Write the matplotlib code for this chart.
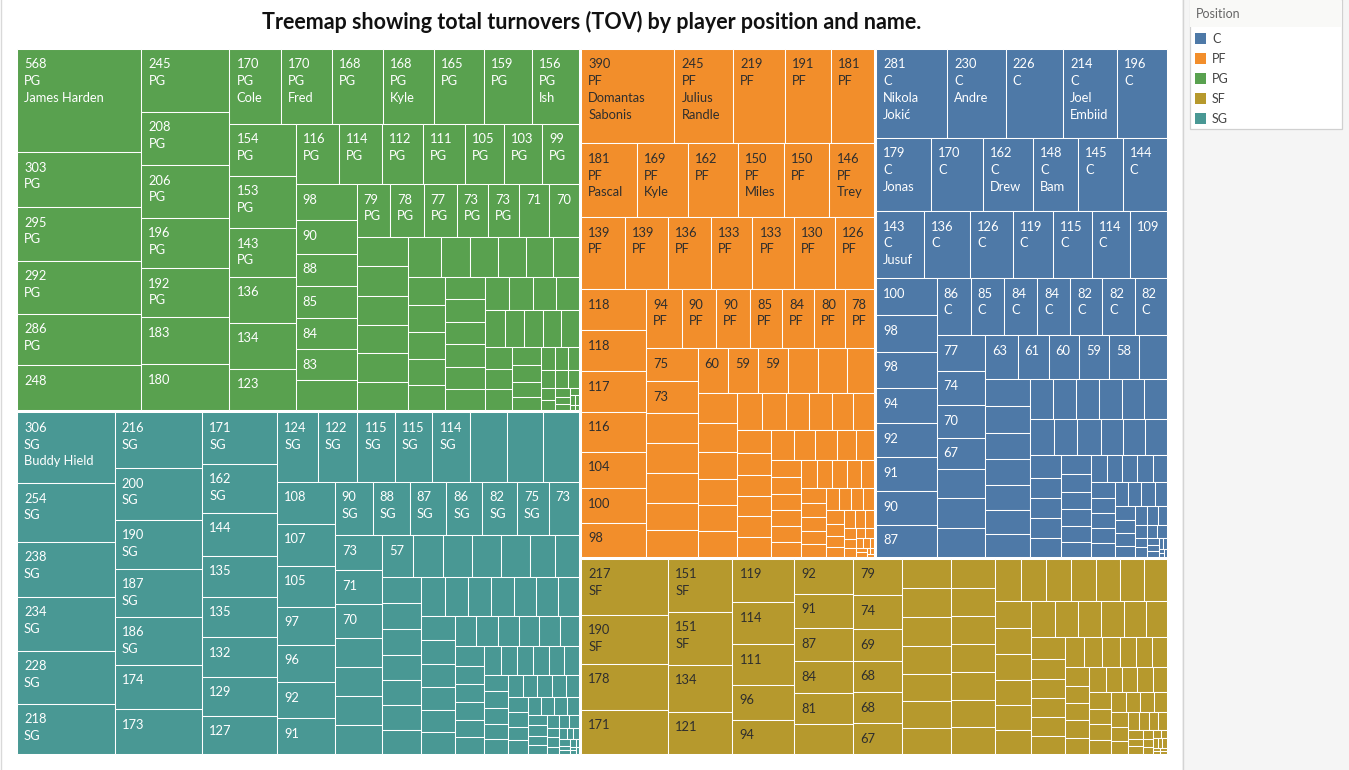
import matplotlib
matplotlib.use("Agg")
import matplotlib.pyplot as plt
from matplotlib.patches import Rectangle
from matplotlib.font_manager import FontProperties

# ---------------- data ----------------
TITLE = "Treemap showing total turnovers (TOV) by player position and name."
LEGEND_TITLE = "Position"
POSITIONS = ["C", "PF", "PG", "SF", "SG"]
COLORS = {"C": "#4e79a7", "PF": "#f28e2b", "PG": "#59a14f",
          "SF": "#b6992d", "SG": "#499894"}
TEXT_COLORS = {"C": "#ffffff", "PF": "#2e2e2e", "PG": "#ffffff",
               "SF": "#2e2e2e", "SG": "#ffffff"}

PG_TOV = [568, 303, 295, 292, 286, 248,
          245, 208, 206, 196, 192, 183, 180,
          170, 170, 168, 168, 165, 159, 156,
          154, 153, 143, 136, 134, 123,
          116, 114, 112, 111, 105, 103, 99,
          98, 90, 88, 85, 84, 83, 82,
          79, 78, 77, 73, 73, 71, 70,
          68, 67, 67, 66, 66, 65,
          57, 52, 50, 49, 47, 47, 45,
          44, 44, 42, 41, 40,
          40, 40, 40, 39, 39,
          36, 35, 35, 34,
          32, 31, 30, 30, 29,
          26, 25, 25,
          23, 21, 19, 17, 15, 13, 12, 11, 10, 9, 8, 7, 6, 5, 4, 3, 2, 2, 1, 1]
PG_NAMES = {0: "James Harden", 13: "Cole", 14: "Fred", 16: "Kyle", 19: "Ish"}

SG_TOV = [306, 254, 238, 234, 228, 218,
          216, 200, 190, 187, 186, 174, 173,
          171, 162, 144, 135, 135, 132, 129, 127,
          124, 122, 115, 115, 114, 114, 112, 110,
          108, 107, 105, 97, 96, 92, 91,
          90, 88, 87, 86, 82, 75, 73,
          73, 71, 70, 61, 61, 61, 60,
          57, 56, 54, 54, 53, 46, 45,
          45, 45, 44, 43, 43, 43, 42,
          41, 40, 40, 39, 38, 38, 37,
          36, 36, 35, 34, 33, 33,
          29, 28, 28, 27, 27, 26,
          26, 24, 23, 23, 22, 22,
          22, 21, 21, 20, 20, 19, 18, 18, 17, 16, 16, 15, 14, 14, 14, 13, 13,
          13, 12, 12, 11, 10, 10, 10, 9, 9, 8, 8, 7, 6, 6, 5, 5, 4, 4, 3, 3, 3,
          2, 2, 2, 1, 1, 1, 1]
SG_NAMES = {0: "Buddy Hield"}

PF_TOV = [390, 245, 219, 191, 181,
          181, 169, 162, 150, 150, 146,
          139, 139, 136, 133, 133, 130, 126,
          118, 118, 117, 116, 104, 100, 98,
          94, 90, 90, 85, 84, 80, 78,
          75, 73, 69, 68, 68, 63, 61,
          60, 59, 59, 57, 57, 54,
          53, 51, 48, 46, 46, 45,
          41, 40, 39, 38, 36, 35,
          34, 33, 32, 31, 31, 30,
          30, 28, 28, 25, 24,
          23, 22, 22, 21, 21, 20, 20, 19, 18, 17, 17, 16, 16, 15, 14, 14, 13,
          12, 12, 11, 11, 10, 9, 8, 8, 8, 7, 6, 5, 5, 4, 4, 3, 3, 2, 2, 2, 1, 1, 1]
PF_NAMES = {0: "Domantas Sabonis", 1: "Julius Randle", 5: "Pascal",
            6: "Kyle", 8: "Miles", 10: "Trey"}

C_TOV = [281, 230, 226, 214, 196,
         179, 170, 162, 148, 145, 144,
         143, 136, 126, 119, 115, 114, 109,
         100, 98, 98, 94, 92, 91, 90, 87,
         86, 85, 84, 84, 82, 82, 82,
         77, 74, 70, 67, 64, 64, 63,
         63, 61, 60, 59, 58, 55,
         53, 53, 51, 51, 49, 46, 46,
         41, 41, 40, 40, 40,
         40, 38, 38, 37, 36, 35,
         35, 31, 28, 28, 27,
         26, 26, 24, 23, 22,
         22, 20, 19, 18,
         18, 18, 17, 17, 16, 16, 15, 15, 14, 14, 14, 13, 13, 12, 11, 10, 10,
         9, 8, 7, 6, 6, 5, 5, 4, 3, 3, 2, 2, 1, 1, 1]
C_NAMES = {0: "Nikola Jokić", 1: "Andre", 3: "Joel Embiid", 5: "Jonas",
           7: "Drew", 8: "Bam", 11: "Jusuf"}

SF_TOV = [217, 190, 178, 171,
          151, 151, 134, 121,
          119, 114, 111, 96, 94,
          92, 91, 87, 84, 81, 80,
          79, 74, 69, 68, 68, 67,
          64, 63, 62, 60, 59, 58, 57,
          56, 55, 55, 54, 54, 53, 53,
          50, 48, 47, 47, 46, 44, 44,
          43, 42, 41, 40, 40, 39,
          38, 37, 37, 37, 34, 34,
          33, 30, 29, 29, 29,
          27, 26, 24, 24, 22,
          21, 20, 20, 19, 19,
          19, 18, 18, 18, 17, 17, 16, 16, 15, 15, 14, 13, 13, 12, 12, 11, 10,
          10, 9, 8, 7, 7, 6, 5, 5, 4, 4, 3, 3, 2, 2, 2, 2, 1, 1, 1, 1]
SF_NAMES = {}

GROUPS = {"PG": (PG_TOV, PG_NAMES), "SG": (SG_TOV, SG_NAMES),
          "PF": (PF_TOV, PF_NAMES), "C": (C_TOV, C_NAMES),
          "SF": (SF_TOV, SF_NAMES)}
# marks whose label Tableau shows with fewer lines than would fit
LABEL_MAX_LINES = {"SG": {26: 0, 27: 0, 28: 0, 42: 1, 51: 0},
                   "C": {17: 1},
                   "PG": {39: 0, 45: 1, 53: 0, 54: 0}}

# ---------------- layout helpers ----------------
ASPECT_BIAS = 1.6   # preferred cell shape (thickness / length)


def worst(row, length):
    s = sum(row)
    t = s / length
    w = 0.0
    for a in row:
        r = (a / t) / t * ASPECT_BIAS
        w = max(w, r, 1.0 / r)
    return w


def squarify(values, x, y, w, h):
    total = float(sum(values))
    areas = [v * w * h / total for v in values]
    rects = []
    i = 0
    while i < len(areas):
        vertical = w >= h
        length = h if vertical else w
        row = [areas[i]]
        j = i + 1
        while j < len(areas) and worst(row + [areas[j]], length) <= worst(row, length):
            row.append(areas[j])
            j += 1
        t = sum(row) / length
        if vertical:
            yy = y
            for a in row:
                hh = a / t
                rects.append((x, yy, t, hh))
                yy += hh
            x += t
            w -= t
        else:
            xx = x
            for a in row:
                ww = a / t
                rects.append((xx, y, ww, t))
                xx += ww
            y += t
            h -= t
        i = j
    return rects


# ---------------- figure ----------------
W, H = 1349, 770
fig = plt.figure(figsize=(W / 100, H / 100), dpi=100)
ax = fig.add_axes([0, 0, 1, 1])
ax.set_xlim(0, W)
ax.set_ylim(H, 0)
ax.axis("off")
renderer = fig.canvas.get_renderer()

LABEL_FP = FontProperties(family=["Lato", "DejaVu Sans"], size=9.3)
TITLE_FP = FontProperties(family=["Lato", "DejaVu Sans"], size=15.5, weight="bold")
LEG_FP = FontProperties(family=["Lato", "DejaVu Sans"], size=9.0)


def tw(s, fp):
    return renderer.get_text_width_height_descent(s, fp, ismath=False)[0]


PAD_L = 7.0
PAD_TOTAL = [14.4, 13.0, 14.0]   # horizontal room needed: value / position / name lines
BASE0, LH, BOT = 19.5, 16.7, 11.1


def wrap(name, avail):
    lines, cur = [], ""
    for word in name.split():
        cand = word if not cur else cur + " " + word
        if cur and tw(cand, LABEL_FP) > avail:
            lines.append(cur)
            cur = word
        else:
            cur = cand
    if cur:
        lines.append(cur)
    return lines


# top level
order = sorted(GROUPS.keys(), key=lambda k: -sum(GROUPS[k][0]))
sums = [sum(GROUPS[k][0]) for k in order]
X0, Y0, X1, Y1 = 16.0, 48.0, 1168.0, 755.0
group_rects = squarify(sums, X0, Y0, X1 - X0, Y1 - Y0)
INSET = 1.0
for pos, (gx, gy, gw, gh) in zip(order, group_rects):
    vals, names = GROUPS[pos]
    gx, gy, gw, gh = gx + INSET, gy + INSET, gw - 2 * INSET, gh - 2 * INSET
    cells = squarify(vals, gx, gy, gw, gh)
    limits = LABEL_MAX_LINES.get(pos, {})
    for idx, ((cx, cy, cw, ch), v) in enumerate(zip(cells, vals)):
        ax.add_patch(Rectangle((cx, cy), cw, ch, facecolor=COLORS[pos],
                               edgecolor="white", linewidth=0.75))
        lines = [str(v), pos] + wrap(names.get(idx, ""), cw - PAD_TOTAL[2])
        lines = lines[:limits.get(idx, len(lines))]
        for li, line in enumerate(lines):
            base = cy + BASE0 + li * LH
            if base + BOT > cy + ch:
                break
            if tw(line, LABEL_FP) + PAD_TOTAL[min(li, 2)] > cw:
                break
            ax.text(cx + PAD_L, base, line, fontproperties=LABEL_FP,
                    color=TEXT_COLORS[pos], ha="left", va="baseline")

# title
ax.text(591.5, 29, TITLE, fontproperties=TITLE_FP, color="#111111",
        ha="center", va="baseline")

# side panel and legend
ax.add_patch(Rectangle((1182, 0), W - 1182, H, facecolor="#f5f5f5",
                       edgecolor="none"))
ax.plot([1182.5, 1182.5], [0, H], color="#d4d4d4", lw=1)
ax.plot([0.5, 0.5], [0, H], color="#d9d9d9", lw=1)
ax.add_patch(Rectangle((1189.5, -1), 152, 129.5, facecolor="white",
                       edgecolor="#d0d0d0", linewidth=0.9))
ax.add_patch(Rectangle((1190, 0), 151, 27, facecolor="#f9f9f7",
                       edgecolor="none"))
ax.text(1196, 14, LEGEND_TITLE, fontproperties=LEG_FP, color="#666666",
        ha="left", va="center")
for i, p in enumerate(POSITIONS):
    yy = 33.3 + 20 * i
    ax.add_patch(Rectangle((1195.3, yy), 10.5, 10.5, facecolor=COLORS[p],
                           edgecolor="none"))
    ax.text(1212, yy + 5.5, p, fontproperties=LEG_FP, color="#444444",
            ha="left", va="center")

fig.savefig("out.png", dpi=100, facecolor="white")
